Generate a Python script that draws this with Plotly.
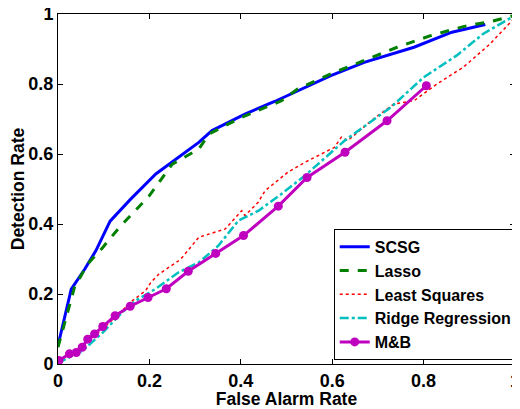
import plotly.graph_objects as go

# ROC curves
scsg_x = [0.0, 0.029, 0.058, 0.083, 0.114, 0.159, 0.214, 0.264, 0.308, 0.337, 0.409, 0.474,
          0.525, 0.597, 0.67, 0.779, 0.862, 0.935]
scsg_y = [0.053, 0.214, 0.27, 0.324, 0.408, 0.471, 0.543, 0.592, 0.633, 0.667, 0.714, 0.75,
          0.781, 0.824, 0.862, 0.905, 0.948, 0.97]

lasso_x = [0.0, 0.022, 0.036, 0.065, 0.098, 0.134, 0.178, 0.2, 0.25, 0.308, 0.33, 0.402, 0.489,
           0.525, 0.597, 0.67, 0.742, 0.815, 0.887, 0.952, 1.0]
lasso_y = [0.048, 0.152, 0.219, 0.286, 0.333, 0.39, 0.452, 0.481, 0.571, 0.614, 0.657, 0.705,
           0.752, 0.786, 0.829, 0.867, 0.905, 0.938, 0.964, 0.98, 0.996]

ls_x = [0.0, 0.045, 0.09, 0.13, 0.163, 0.192, 0.203, 0.221, 0.264, 0.272, 0.308, 0.33, 0.366,
        0.402, 0.409, 0.438, 0.453, 0.503, 0.54, 0.605, 0.62, 0.634, 0.69, 0.735, 0.779, 0.829,
        0.887, 0.945, 1.0]
ls_y = [0.005, 0.045, 0.09, 0.14, 0.181, 0.21, 0.233, 0.257, 0.295, 0.305, 0.362, 0.371, 0.386,
        0.438, 0.424, 0.462, 0.495, 0.548, 0.576, 0.619, 0.648, 0.638, 0.7, 0.743, 0.752, 0.8,
        0.848, 0.914, 0.99]

ridge_x = [0.0, 0.011, 0.054, 0.098, 0.141, 0.17, 0.214, 0.264, 0.308, 0.351, 0.395, 0.439,
           0.489, 0.54, 0.627, 0.728, 0.8, 0.872, 0.93, 1.0]
ridge_y = [0.0, 0.01, 0.038, 0.09, 0.148, 0.181, 0.215, 0.262, 0.29, 0.338, 0.41, 0.438,
           0.486, 0.538, 0.638, 0.733, 0.819, 0.881, 0.943, 0.996]

mb_x = [0.002, 0.025, 0.04, 0.053, 0.065, 0.08, 0.098, 0.125, 0.158, 0.197, 0.237, 0.285,
        0.345, 0.406, 0.482, 0.545, 0.628, 0.72, 0.806]
mb_y = [0.01, 0.029, 0.033, 0.048, 0.071, 0.086, 0.107, 0.138, 0.165, 0.19, 0.215, 0.265,
        0.316, 0.367, 0.451, 0.533, 0.605, 0.695, 0.795]

ticks = [0, 0.2, 0.4, 0.6, 0.8, 1]
tick_text = ["0", "0.2", "0.4", "0.6", "0.8", "1"]

FONT = "Liberation Sans, Arial, sans-serif"

fig = go.Figure()
fig.add_trace(go.Scatter(x=scsg_x, y=scsg_y, mode="lines", name="<b>SCSG</b>",
                         line=dict(color="#0000FF", width=3)))
fig.add_trace(go.Scatter(x=lasso_x, y=lasso_y, mode="lines", name="<b>Lasso</b>",
                         line=dict(color="#008000", width=3, dash="dash")))
fig.add_trace(go.Scatter(x=ls_x, y=ls_y, mode="lines", name="<b>Least Squares</b>",
                         line=dict(color="#FF0000", width=1.5, dash="dot")))
fig.add_trace(go.Scatter(x=ridge_x, y=ridge_y, mode="lines", name="<b>Ridge Regression</b>",
                         line=dict(color="#00BFBF", width=2.5, dash="dashdot")))
fig.add_trace(go.Scatter(x=mb_x, y=mb_y, mode="lines+markers", name="<b>M&B</b>",
                         line=dict(color="#BF00BF", width=3),
                         marker=dict(color="#BF00BF", size=9, symbol="circle")))

axis_common = dict(
    range=[0, 1],
    tickvals=ticks,
    ticktext=["<b>%s</b>" % t for t in tick_text],
    ticks="inside",
    ticklen=5,
    tickcolor="black",
    showline=True,
    linecolor="black",
    linewidth=1,
    mirror="ticks",
    showgrid=False,
    zeroline=False,
    automargin=False,
    ticklabeloverflow="allow",
    tickfont=dict(family=FONT, size=18, color="black"),
)

fig.update_xaxes(**axis_common,
                 title=dict(text="<b>False Alarm Rate</b>",
                            font=dict(family=FONT, size=17.5, color="black")))
fig.update_yaxes(**axis_common,
                 title=dict(text="<b>Detection Rate</b>",
                            font=dict(family=FONT, size=17.5, color="black")))

# the page body has an 8px margin, so the figure is sized to fit the window
fig.update_layout(
    width=512,
    height=401,
    margin=dict(l=50, r=2, t=6, b=45),
    plot_bgcolor="white",
    paper_bgcolor="white",
    legend=dict(
        x=1.006, y=0.012, xanchor="right", yanchor="bottom",
        bordercolor="black", borderwidth=1, bgcolor="white",
        font=dict(family=FONT, size=16, color="black"),
        tracegroupgap=0, itemwidth=30,
    ),
)

fig.write_html("out.html")
